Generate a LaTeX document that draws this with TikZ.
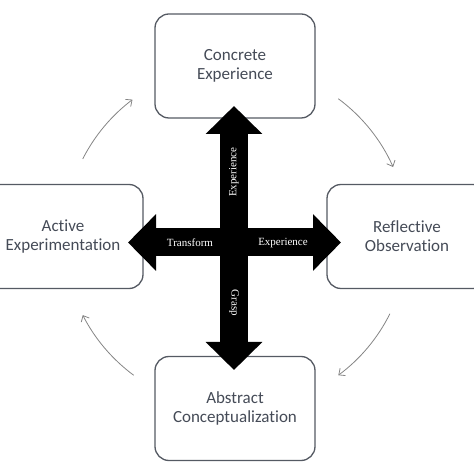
\documentclass[tikz,border=0pt]{standalone}
\usepackage{fontspec}
\setmainfont{Carlito}[RawFeature={-liga;-clig;-dlig}]
\newfontfamily\labfont{Liberation Serif}
\usetikzlibrary{arrows.meta}
\definecolor{boxline}{HTML}{555A63}
\definecolor{boxtext}{HTML}{454B57}
\definecolor{cyc}{HTML}{858585}
\tikzset{
  stage/.style={draw=boxline, line width=1.3pt, rounded corners=14pt, fill=white,
    minimum width=160pt, minimum height=104pt, align=center, text=boxtext,
    font=\fontsize{17}{19}\selectfont},
  bigarrow/.style={line width=28pt, draw=black, -{Triangle[length=28pt,width=55pt]}},
  crosslab/.style={text=white, font=\labfont\fontsize{11}{12}\selectfont},
  cycarrow/.style={draw=cyc, line width=0.8pt, -{Straight Barb[length=5pt,width=9pt]}}
}
\begin{document}
\begin{tikzpicture}[x=1pt,y=1pt]
\useasboundingbox (0,0) rectangle (474,474);
\node[stage] (ce) at (235,408) {Concrete\\Experience};
\node[stage] (ae) at (63,237.5) {Active\\Experimentation};
\node[stage] (ro) at (407,237.5) {Reflective\\Observation};
\node[stage] (ac) at (235,65.5) {Abstract\\Conceptualization};
% cross
\coordinate (c) at (234,231.5);
\coordinate (tn) at (234,368);
\coordinate (ts) at (234,104);
\coordinate (tw) at (128,231.5);
\coordinate (te) at (341,231.5);
\draw[bigarrow] (c) -- (tn);
\draw[bigarrow] (c) -- (ts);
\draw[bigarrow] (c) -- (tw);
\draw[bigarrow] (c) -- (te);
\fill[black] (220,217.5) rectangle (248,245.5);
\node[crosslab, rotate=90] (l1) at (234,302) {Experience};
\node[crosslab, rotate=-90] (l2) at (234,171) {Grasp};
\node[crosslab] (l3) at (190,231) {Transform};
\node[crosslab] (l4) at (283,231) {Experience};
% cycle arrows
\coordinate (o) at (236,237);
\draw[cycarrow] (o) ++(153:172) coordinate (a1) arc[start angle=153, end angle=127, radius=172];
\draw[cycarrow] (o) ++(53.5:172) coordinate (a2) arc[start angle=53.5, end angle=24, radius=172];
\draw[cycarrow] (o) ++(-26.5:172) coordinate (a3) arc[start angle=-26.5, end angle=-53.5, radius=172];
\draw[cycarrow] (o) ++(233.5:172) coordinate (a4) arc[start angle=233.5, end angle=207, radius=172];
\end{tikzpicture}
\end{document}
